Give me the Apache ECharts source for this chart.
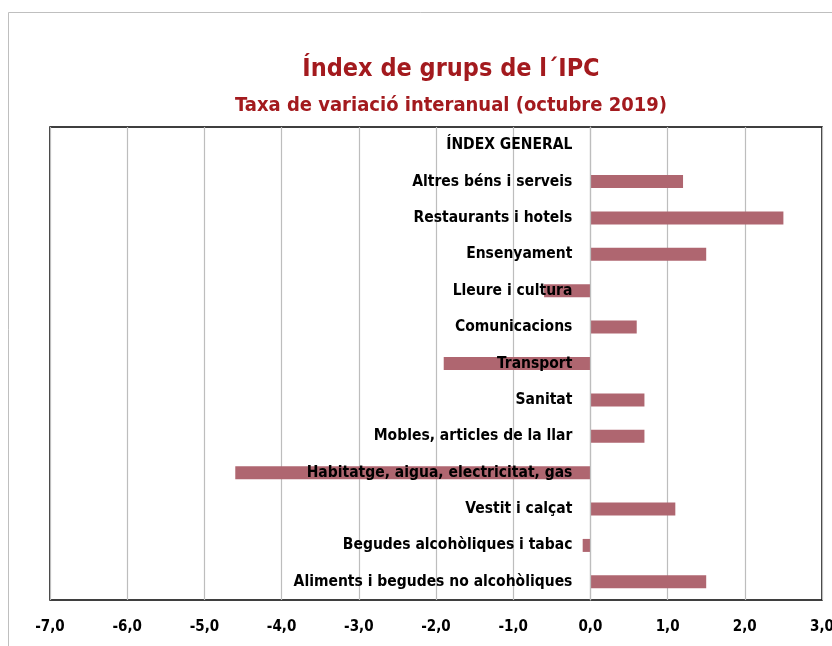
<!DOCTYPE html>
<html>
<head>
<meta charset="utf-8">
<title>Índex de grups de l´IPC</title>
<script src="https://cdn.jsdelivr.net/npm/echarts@6/dist/echarts.min.js"></script>
<style>
  html, body { margin: 0; padding: 0; background: #fff; }
  #chart { width: 832px; height: 646px; }
</style>
</head>
<body>
<div id="chart"></div>
<script>
// categories from bottom to top (category axis starts at the bottom)
var categories = [
  'Aliments i begudes no alcohòliques',
  'Begudes alcohòliques i tabac',
  'Vestit i calçat',
  'Habitatge, aigua, electricitat, gas',
  'Mobles, articles de la llar',
  'Sanitat',
  'Transport',
  'Comunicacions',
  'Lleure i cultura',
  'Ensenyament',
  'Restaurants i hotels',
  'Altres béns i serveis',
  'ÍNDEX GENERAL'
];
var values = [1.5, -0.1, 1.1, -4.6, 0.7, 0.7, -1.9, 0.6, -0.6, 1.5, 2.5, 1.2, 0];
var xTicks = { min: -7, max: 3, step: 1 };

var font = "'Liberation Sans Narrow', 'DejaVu Sans Condensed', sans-serif";
var chart = echarts.init(document.getElementById('chart'));

var gridLeft = 50, gridRight = 10;
var plotW = 832 - gridLeft - gridRight;
// category axis sits on the zero line, like the Excel original
var zeroOffset = -plotW * (0 - xTicks.min) / (xTicks.max - xTicks.min);

var option = {
  backgroundColor: '#fff',
  animation: false,
  graphic: [{
    type: 'rect',
    shape: { x: 8.5, y: 12.5, width: 900, height: 700 },
    style: { fill: 'none', stroke: '#bfbfbf', lineWidth: 1 },
    z: -1
  }],
  title: [{
    text: 'Índex de grups de l´IPC',
    left: 446, top: 52, textAlign: 'center',
    textStyle: { color: '#A31A1E', fontFamily: font, fontWeight: 'bold', fontSize: 25 }
  }, {
    text: 'Taxa de variació interanual (octubre 2019)',
    left: 446, top: 91, textAlign: 'center',
    textStyle: { color: '#A31A1E', fontFamily: font, fontWeight: 'bold', fontSize: 20 }
  }],
  grid: {
    left: gridLeft, right: gridRight, top: 127, bottom: 46,
    show: true, borderColor: '#000', borderWidth: 1.5,
    containLabel: false,
    outerBoundsMode: 'none'
  },
  xAxis: {
    type: 'value',
    min: xTicks.min, max: xTicks.max, interval: xTicks.step,
    axisLine: { show: false },
    axisTick: { show: false },
    splitLine: { show: true, lineStyle: { color: '#bdbdbd', width: 1.2 } },
    axisLabel: {
      margin: 20, color: '#000', fontFamily: font, fontWeight: 'bold', fontSize: 15,
      formatter: function (v) { return v.toFixed(1).replace('.', ','); }
    }
  },
  yAxis: {
    type: 'category',
    data: categories,
    z: 5,
    offset: zeroOffset,
    axisLine: { show: true, onZero: false, lineStyle: { color: '#bdbdbd', width: 1.2 } },
    axisTick: { show: false },
    axisLabel: {
      margin: 18, color: '#000', fontFamily: font, fontWeight: 'bold', fontSize: 15.5
    }
  },
  series: [{
    type: 'bar',
    data: values,
    barWidth: 13,
    itemStyle: { color: '#AF6670' }
  }]
};
chart.setOption(option);
</script>
</body>
</html>
